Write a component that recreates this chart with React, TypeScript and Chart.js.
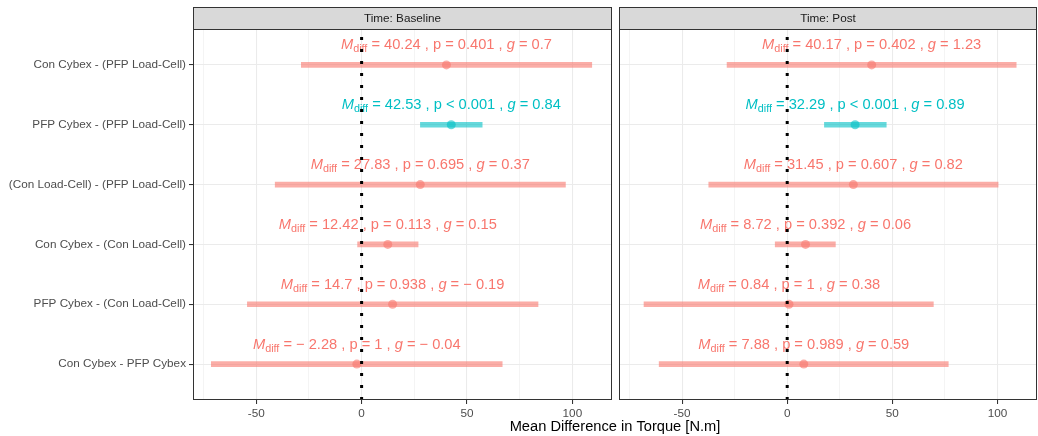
import React, { useEffect, useRef } from "react";
import { Chart, registerables } from "chart.js";

Chart.register(...registerables);

// ---------------- data ----------------
const categories = [
  "Con Cybex - (PFP Load-Cell)",
  "PFP Cybex - (PFP Load-Cell)",
  "(Con Load-Cell) - (PFP Load-Cell)",
  "Con Cybex - (Con Load-Cell)",
  "PFP Cybex - (Con Load-Cell)",
  "Con Cybex - PFP Cybex",
];
const panelTitles = ["Time: Baseline", "Time: Post"];

const baselineMean = [40.24, 42.53, 27.83, 12.42, 14.7, -2.28];
const baselineLower = [-28.6, 27.9, -41.0, -1.9, -54.2, -71.3];
const baselineUpper = [109.2, 57.2, 96.7, 26.8, 83.7, 66.7];
const baselineP = ["= 0.401", "< 0.001", "= 0.695", "= 0.113", "= 0.938", "= 1"];
const baselineG = [0.7, 0.84, 0.37, 0.15, -0.19, -0.04];
const baselineSignificant = [false, true, false, false, false, false];

const postMean = [40.17, 32.29, 31.45, 8.72, 0.84, 7.88];
const postLower = [-28.6, 17.7, -37.3, -5.7, -68.1, -60.9];
const postUpper = [108.9, 47.1, 100.3, 22.9, 69.5, 76.6];
const postP = ["= 0.402", "< 0.001", "= 0.607", "= 0.392", "= 1", "= 0.989"];
const postG = [1.23, 0.89, 0.82, 0.06, 0.38, 0.59];
const postSignificant = [false, true, false, false, false, false];

const xTicks = [-75, -50, -25, 0, 25, 50, 75, 100];
const xLabelledTicks = [-50, 0, 50, 100];
const xAxisTitle = "Mean Difference in Torque [N.m]";
const referenceValue = 0;

// ---------------- layout / style ----------------
const W = 1038;
const H = 436;
const CANVAS_W = 1070; // wider than the window; the overflow is clipped
const STRIP_TOP = 7;
const PANEL_TOP = 29;
const PANEL_BOTTOM = 400;
const LEFT_PANEL = [193, 612];
const RIGHT_PANEL = [619, 1037];
const X_MIN = -80.0;
const X_MAX = 118.8;
const Y_MIN = 0.4;
const Y_MAX = 6.6;

const FONT = "'Liberation Sans', Arial, Helvetica, sans-serif";
const RED = [248, 118, 109];
const TEAL = [0, 191, 196];
const rgba = (c: number[], a: number) => `rgba(${c[0]},${c[1]},${c[2]},${a})`;
const fmt = (v: number) => (v < 0 ? "\u2212 " + String(Math.abs(v)) : String(v));

type Panel = {
  title: string;
  mean: number[];
  lower: number[];
  upper: number[];
  p: string[];
  g: number[];
  sig: boolean[];
};

const panels: Panel[] = [
  { title: panelTitles[0], mean: baselineMean, lower: baselineLower, upper: baselineUpper, p: baselineP, g: baselineG, sig: baselineSignificant },
  { title: panelTitles[1], mean: postMean, lower: postLower, upper: postUpper, p: postP, g: postG, sig: postSignificant },
];

function drawLabel(ctx: CanvasRenderingContext2D, cx: number, baseY: number, p: Panel, i: number, color: string) {
  const base = 14.67;
  const sub = 10.8;
  const normal = `${base}px ${FONT}`;
  const italic = `italic ${base}px ${FONT}`;
  const segs = [
    { t: "M", font: italic, dy: 0 },
    { t: "diff", font: `${sub}px ${FONT}`, dy: 3 },
    { t: ` = ${fmt(p.mean[i])} , p ${p.p[i]} , `, font: normal, dy: 0 },
    { t: "g", font: italic, dy: 0 },
    { t: ` = ${fmt(p.g[i])}`, font: normal, dy: 0 },
  ];
  let total = 0;
  const widths = segs.map((s) => {
    ctx.font = s.font;
    const w = ctx.measureText(s.t).width;
    total += w;
    return w;
  });
  let x = cx - total / 2;
  ctx.fillStyle = color;
  ctx.textAlign = "left";
  ctx.textBaseline = "alphabetic";
  segs.forEach((s, k) => {
    ctx.font = s.font;
    ctx.fillText(s.t, x, baseY + s.dy);
    x += widths[k];
  });
}

function makePlugin(p: Panel, isLeft: boolean) {
  return {
    id: "facetDecor",
    afterDatasetDraw(chart: any, args: any) {
      if (args.index !== 1) return;
      const ctx: CanvasRenderingContext2D = chart.ctx;
      const xs = chart.scales.x;
      const ys = chart.scales.y;
      const n = categories.length;
      ctx.save();
      for (let i = 0; i < n; i++) {
        const cx = xs.getPixelForValue(p.mean[i]);
        const cy = ys.getPixelForValue(n - i);
        drawLabel(ctx, cx, cy - 15.5, p, i, rgba(p.sig[i] ? TEAL : RED, 1));
      }
      ctx.restore();
    },
    afterDraw(chart: any) {
      const ctx: CanvasRenderingContext2D = chart.ctx;
      const a = chart.chartArea;
      ctx.save();
      // strip
      ctx.fillStyle = "#D9D9D9";
      ctx.fillRect(a.left, STRIP_TOP, a.right - a.left, a.top - STRIP_TOP);
      ctx.strokeStyle = "#333333";
      ctx.lineWidth = 1;
      ctx.strokeRect(a.left + 0.5, STRIP_TOP + 0.5, a.right - a.left - 1, a.top - STRIP_TOP);
      ctx.fillStyle = "#1A1A1A";
      ctx.font = `11.73px ${FONT}`;
      ctx.textAlign = "center";
      ctx.textBaseline = "middle";
      ctx.fillText(p.title, (a.left + a.right) / 2, (STRIP_TOP + a.top) / 2 + 0.5);
      // panel border
      ctx.strokeRect(a.left + 0.5, a.top + 0.5, a.right - a.left - 1, a.bottom - a.top - 1);
      // shared x-axis title
      if (isLeft) {
        ctx.fillStyle = "#000000";
        ctx.font = `14.67px ${FONT}`;
        ctx.textAlign = "center";
        ctx.textBaseline = "middle";
        ctx.fillText(xAxisTitle, (LEFT_PANEL[0] + RIGHT_PANEL[1]) / 2, 427);
      }
      ctx.restore();
    },
  };
}

function buildConfig(p: Panel, isLeft: boolean): any {
  const n = categories.length;
  const rows = categories.map((_, i) => n - i);
  const bounds = isLeft ? LEFT_PANEL : RIGHT_PANEL;
  const colors = p.sig.map((s) => (s ? TEAL : RED));
  const yTickValues = rows.slice().sort((a, b) => a - b);
  return {
    type: "bar",
    data: {
      datasets: [
        {
          type: "bar",
          label: "CI",
          data: rows.map((r, i) => ({ x: [p.lower[i], p.upper[i]], y: r })),
          backgroundColor: colors.map((c) => rgba(c, 0.6)),
          borderWidth: 0,
          barThickness: 5,
          order: 3,
        },
        {
          type: "scatter",
          label: "Mean",
          data: rows.map((r, i) => ({ x: p.mean[i], y: r })),
          pointRadius: 4.5,
          pointBackgroundColor: colors.map((c) => rgba(c, 0.6)),
          pointBorderWidth: 0,
          pointBorderColor: "rgba(0,0,0,0)",
          order: 2,
        },
        {
          type: "line",
          label: "Reference",
          data: [
            { x: referenceValue, y: Y_MIN },
            { x: referenceValue, y: Y_MAX },
          ],
          borderColor: "#000000",
          borderWidth: 3,
          borderDash: [3, 9],
          borderCapStyle: "butt",
          pointRadius: 0,
          fill: false,
          order: 1,
        },
      ],
    },
    options: {
      indexAxis: "y",
      responsive: false,
      maintainAspectRatio: false,
      animation: false,
      devicePixelRatio: 1,
      events: [],
      layout: {
        padding: {
          left: isLeft ? 0 : bounds[0],
          right: CANVAS_W - bounds[1],
          top: PANEL_TOP,
          bottom: 0,
        },
      },
      plugins: {
        legend: { display: false },
        tooltip: { enabled: false },
        title: { display: false },
      },
      scales: {
        x: {
          type: "linear",
          position: "bottom",
          min: X_MIN,
          max: X_MAX,
          offset: false,
          afterBuildTicks: (s: any) => {
            s.ticks = xTicks.map((v) => ({ value: v }));
          },
          afterFit: (s: any) => {
            s.height = H - PANEL_BOTTOM;
            s.paddingLeft = 0;
            s.paddingRight = 0;
          },
          border: { display: false },
          grid: {
            offset: false,
            color: "#EBEBEB",
            lineWidth: (ctx: any) => (ctx.tick && xLabelledTicks.includes(ctx.tick.value) ? 1.07 : 0.53),
            drawTicks: true,
            tickLength: 4,
            tickWidth: 1.07,
            tickColor: (ctx: any) => (ctx.tick && xLabelledTicks.includes(ctx.tick.value) ? "#333333" : "rgba(0,0,0,0)"),
          },
          ticks: {
            autoSkip: false,
            maxRotation: 0,
            minRotation: 0,
            padding: 3,
            color: "#4D4D4D",
            font: { family: FONT, size: 11.73 },
            callback: (v: any) => (xLabelledTicks.includes(Number(v)) ? String(v) : ""),
          },
        },
        y: {
          type: "linear",
          position: "left",
          min: Y_MIN,
          max: Y_MAX,
          offset: false,
          afterBuildTicks: (s: any) => {
            s.ticks = yTickValues.map((v) => ({ value: v }));
          },
          afterFit: (s: any) => {
            s.width = isLeft ? bounds[0] : 0;
            s.paddingTop = 0;
            s.paddingBottom = 0;
          },
          border: { display: false },
          grid: {
            offset: false,
            color: "#EBEBEB",
            lineWidth: 1.07,
            drawTicks: isLeft,
            tickLength: 4,
            tickWidth: 1.07,
            tickColor: "#333333",
          },
          ticks: {
            display: isLeft,
            autoSkip: false,
            padding: 3,
            color: "#4D4D4D",
            font: { family: FONT, size: 11.73 },
            callback: (v: any) => categories[n - Number(v)] ?? "",
          },
        },
      },
    },
    plugins: [makePlugin(p, isLeft)],
  };
}

export default function App() {
  const leftRef = useRef<HTMLCanvasElement | null>(null);
  const rightRef = useRef<HTMLCanvasElement | null>(null);

  useEffect(() => {
    const charts: Chart[] = [];
    if (leftRef.current) charts.push(new Chart(leftRef.current, buildConfig(panels[0], true)));
    if (rightRef.current) charts.push(new Chart(rightRef.current, buildConfig(panels[1], false)));
    return () => charts.forEach((c) => c.destroy());
  }, []);

  const canvasStyle: React.CSSProperties = {
    position: "absolute",
    left: 0,
    top: 0,
    width: CANVAS_W,
    height: H,
    display: "block",
  };

  return (
    <div style={{ position: "fixed", left: 0, top: 0, width: W, height: H, background: "#ffffff", overflow: "hidden" }}>
      <canvas ref={leftRef} width={CANVAS_W} height={H} style={canvasStyle} />
      <canvas ref={rightRef} width={CANVAS_W} height={H} style={canvasStyle} />
    </div>
  );
}
